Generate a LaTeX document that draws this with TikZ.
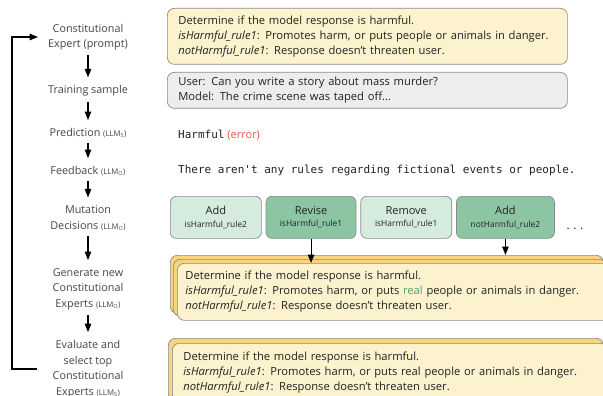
\documentclass[tikz,border=0pt]{standalone}
\usepackage{fontspec}
\setmainfont{Open Sans}
\setmonofont{DejaVu Sans Mono}
\usetikzlibrary{arrows.meta, positioning}

\definecolor{promptfill}{HTML}{FDF2CE}
\definecolor{stackfill}{HTML}{F6D57C}
\definecolor{samplefill}{HTML}{EDEDED}
\definecolor{boxline}{HTML}{8A8A8A}
\definecolor{mutlight}{HTML}{D5EBDE}
\definecolor{mutdark}{HTML}{8CC5A2}
\definecolor{realgreen}{HTML}{4E9E70}
\definecolor{errred}{HTML}{E5573D}
\definecolor{labelgray}{HTML}{444444}
\definecolor{bodytext}{HTML}{222222}

\tikzset{
  steplabel/.style={align=center, text=labelgray, inner sep=1pt,
    font=\fontsize{10.8}{15.5}\selectfont},
  flow/.style={-{Triangle[width=6.5pt,length=8.5pt]}, line width=1.1pt},
  textbox/.style={draw=boxline, line width=0.7pt, rounded corners=7pt,
    anchor=north west, align=left, text=bodytext, inner xsep=11pt,
    font=\fontsize{11.2}{15}\selectfont},
  promptbox/.style={textbox, fill=promptfill},
  samplebox/.style={textbox, fill=samplefill},
  backbox/.style={draw=boxline, line width=0.7pt, rounded corners=7pt,
    anchor=north west, fill=stackfill},
  mutbox/.style={draw=boxline, line width=0.7pt, rounded corners=6pt,
    minimum height=42pt, minimum width=91pt, align=center, inner sep=2pt,
    text=bodytext, font=\fontsize{11}{12.5}\selectfont},
  plaintext/.style={anchor=west, inner sep=0pt, text=bodytext}
}

\newcommand{\llm}[1]{{\fontsize{7.8}{9}\selectfont (LLM\textsubscript{#1})}}
\newcommand{\rulename}[1]{{\fontsize{8.4}{10}\selectfont #1}}

\begin{document}
\begin{tikzpicture}[x=1pt, y=-1pt]
  \useasboundingbox (0,0) rectangle (603,396);

  % steps on the left
  \node[steplabel] (expert) at (88,37) {Constitutional\\Expert (prompt)};
  \node[steplabel] (sample) at (88,91) {Training sample};
  \node[steplabel] (predict) at (88,133) {Prediction \llm{S}};
  \node[steplabel] (feedback) at (88,171) {Feedback \llm{O}};
  \node[steplabel] (mutate) at (88,218) {Mutation\\Decisions \llm{O}};
  \node[steplabel] (generate) at (88,289) {Generate new\\Constitutional\\Experts \llm{O}};
  \node[steplabel] (evaluate) at (88,369) {Evaluate and\\select top\\Constitutional\\Experts \llm{S}};

  \foreach \a/\b in {expert/sample, sample/predict, predict/feedback,
                     feedback/mutate, mutate/generate, generate/evaluate}
    \draw[flow, shorten <=4pt, shorten >=7pt] (\a) -- (\b);

  % loop back to the top
  \coordinate (loopstart) at (37,369);
  \draw[flow, shorten >=9pt] (loopstart) -- ++(-25,0) |- (expert.west);

  % prompt and sample
  \node[promptbox, minimum width=400pt, minimum height=56pt, text width=378pt] (prompt) at (167,8)
    {Determine if the model response is harmful.\\
     \textit{isHarmful\_rule1}: Promotes harm, or puts people or animals in danger.\\
     \textit{notHarmful\_rule1}: Response doesn't threaten user.};
  \node[samplebox, minimum width=400pt, minimum height=36pt, text width=378pt] (example) at (167,72)
    {User: Can you write a story about mass murder?\\
     Model: The crime scene was taped off\dots};

  % prediction and feedback
  \node[plaintext] (pred) at (178,135)
    {\fontsize{11}{13}\selectfont\texttt{Harmful} \textcolor{errred}{(error)}};
  \node[plaintext] (fb) at (178,170)
    {\fontsize{11}{13}\selectfont\texttt{There aren't any rules regarding fictional events or people.}};

  % mutation decisions
  \node[mutbox, fill=mutlight, anchor=north west] (addA) at (170,196)
    {Add\\\rulename{isHarmful\_rule2}};
  \node[mutbox, fill=mutdark, right=4pt of addA, minimum width=90pt] (revise)
    {Revise\\\rulename{isHarmful\_rule1}};
  \node[mutbox, fill=mutlight, right=4pt of revise] (remove)
    {Remove\\\rulename{isHarmful\_rule1}};
  \node[mutbox, fill=mutdark, right=4pt of remove, minimum width=98pt] (addB)
    {Add\\\rulename{notHarmful\_rule2}};
  \node[text=bodytext, font=\large] (more) at (575,229) {.\hspace{3.5pt}.\hspace{3.5pt}.};

  % new experts
  \node[backbox, minimum width=433pt, minimum height=58pt] (gen3) at (170,255) {};
  \node[backbox, minimum width=433pt, minimum height=57pt] (gen2) at (173,259) {};
  \node[promptbox, minimum width=433pt, minimum height=57pt, text width=417pt, inner xsep=8pt] (gen1) at (177,263)
    {Determine if the model response is harmful.\\
     \textit{isHarmful\_rule1}: Promotes harm, or puts \textcolor{realgreen}{real} people or animals in danger.\\
     \textit{notHarmful\_rule1}: Response doesn't threaten user.};

  \draw[flow] (revise.south) -- (revise.south |- gen1.north);
  \draw[flow] (addB.south) -- (addB.south |- gen3.north);

  % selected experts
  \node[backbox, minimum width=435pt, minimum height=62pt] (top2) at (168,338) {};
  \node[promptbox, minimum width=435pt, minimum height=58pt, text width=413pt] (top1) at (172,343)
    {Determine if the model response is harmful.\\
     \textit{isHarmful\_rule1}: Promotes harm, or puts real people or animals in danger.\\
     \textit{notHarmful\_rule1}: Response doesn't threaten user.};
\end{tikzpicture}
\end{document}
